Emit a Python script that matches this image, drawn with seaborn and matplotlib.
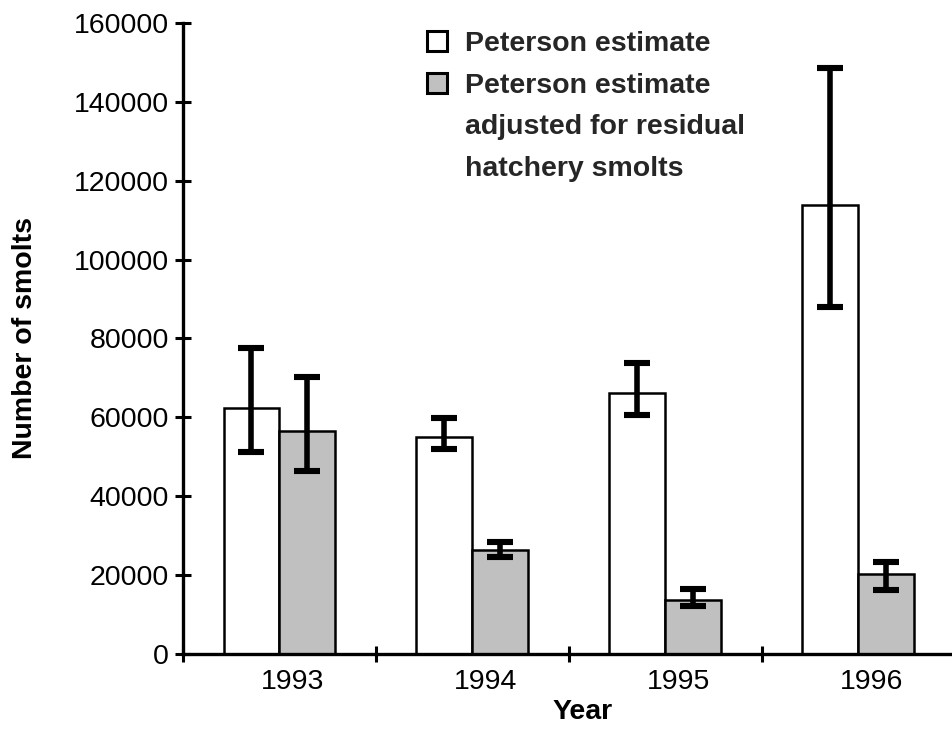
import pandas as pd
import numpy as np
import matplotlib.pyplot as plt
import matplotlib.transforms as mtransforms
from matplotlib.patches import Patch
import seaborn as sns

# data
years = ['1993', '1994', '1995', '1996']
series = ['Peterson estimate', 'Peterson estimate adjusted for residual hatchery smolts']

peterson = [62400, 55100, 66100, 113800]
peterson_low = [51300, 52000, 60600, 88000]
peterson_high = [77700, 59800, 73700, 148500]

adjusted = [56600, 26400, 13700, 20300]
adjusted_low = [46500, 24700, 12200, 16200]
adjusted_high = [70300, 28300, 16400, 23400]

y_ticks = [0, 20000, 40000, 60000, 80000, 100000, 120000, 140000, 160000]

df = pd.DataFrame({
    'Year': years * 2,
    'Estimate': [series[0]] * 4 + [series[1]] * 4,
    'Smolts': peterson + adjusted,
})

sns.set_theme(style='white')
plt.rcParams['font.family'] = ['Liberation Sans', 'DejaVu Sans']

fig = plt.figure(figsize=(9.53, 7.29), dpi=100)
ax = fig.add_axes([0.192, 0.1029, 0.810, 0.8656])

colors = ['white', '#C0C0C0']
sns.barplot(data=df, x='Year', y='Smolts', hue='Estimate', hue_order=series,
            palette=colors, edgecolor='black', linewidth=1.8, width=0.58,
            gap=0, legend=False, ax=ax)

#Error bars (asymmetric)
err = [(peterson, peterson_low, peterson_high), (adjusted, adjusted_low, adjusted_high)]
for cont, (vals, lo, hi) in zip(ax.containers, err):
    xs = [p.get_x() + p.get_width() / 2 for p in cont]
    vals = np.array(vals)
    yerr = [vals - np.array(lo), np.array(hi) - vals]
    ax.errorbar(xs, vals, yerr=yerr, fmt='none', ecolor='black',
                elinewidth=4, capsize=9.5, capthick=4.4, zorder=5)

ax.set_ylim(0, 160000)
ax.set_xlim(-0.5, 3.5)
ax.set_yticks(y_ticks)
ax.set_yticklabels([str(t) for t in y_ticks])

sns.despine(ax=ax)
for s in ['left', 'bottom']:
    ax.spines[s].set_linewidth(2.4)
    ax.spines[s].set_color('black')

ax.tick_params(axis='y', direction='inout', length=11, width=2.2, color='black',
               labelsize=20.5, labelcolor='black', pad=4.5, left=True)
ax.tick_params(axis='x', which='major', length=0, labelsize=20.5, labelcolor='black', pad=10.5)
ax.set_xticks(np.arange(-0.5, 4, 1), minor=True)
ax.tick_params(axis='x', which='minor', direction='inout', length=11, width=2.2,
               color='black', bottom=True)

# year labels sit a bit right of the bar groups
offset = mtransforms.ScaledTranslation(0.13, 0, fig.dpi_scale_trans)
for lab in ax.get_xticklabels():
    lab.set_transform(lab.get_transform() + offset)

ax.set_xlabel('Year', fontsize=20.5, fontweight='bold', color='black')
ax.xaxis.set_label_coords(0.517, -0.071)
ax.set_ylabel('Number of smolts', fontsize=20.5, fontweight='bold', color='black')
ax.yaxis.set_label_coords(-0.188, 0.5)

handles = [Patch(facecolor=colors[0], edgecolor='black', linewidth=2.2),
           Patch(facecolor=colors[1], edgecolor='black', linewidth=2.2),
           Patch(alpha=0), Patch(alpha=0)]
labels = ['Peterson estimate', 'Peterson estimate', 'adjusted for residual', 'hatchery smolts']
fig.legend(handles, labels, loc='upper left', bbox_to_anchor=(427 / 953, 1 - 31 / 729),
           frameon=False, prop={'weight': 'bold', 'size': 20.5},
           handlelength=0.7, handleheight=0.7, handletextpad=0.62,
           labelspacing=0.55, borderpad=0, borderaxespad=0)

fig.savefig('out.png', dpi=100)
